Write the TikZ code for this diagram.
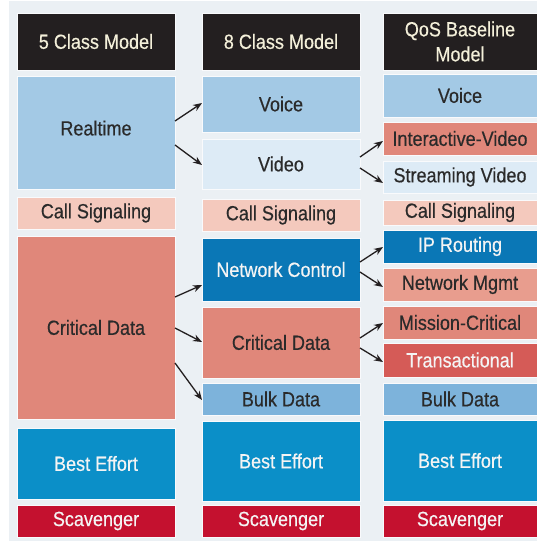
\documentclass[tikz,border=0pt]{standalone}
\usepackage{fontspec}
\setmainfont{Liberation Sans}[FakeStretch=0.88,FakeBold=0.4]
\usetikzlibrary{arrows.meta}

\definecolor{pagebg}{HTML}{EBF0F4}
\definecolor{headbg}{HTML}{231F20}
\definecolor{headtxt}{HTML}{F4F0DA}
\definecolor{darktxt}{HTML}{2A2A2A}
\definecolor{lighttxt}{HTML}{F4F4F4}
\definecolor{rtblue}{HTML}{A3C9E5}
\definecolor{paleblue}{HTML}{DDEBF6}
\definecolor{callpink}{HTML}{F4C9BD}
\definecolor{salmon}{HTML}{E0877A}
\definecolor{lightsalmon}{HTML}{E89D8E}
\definecolor{transred}{HTML}{D55B57}
\definecolor{ctrlblue}{HTML}{0A77B6}
\definecolor{bulkblue}{HTML}{7DB3DB}
\definecolor{effortblue}{HTML}{0B8FC8}
\definecolor{scavred}{HTML}{C4112F}

% one class cell: name, x0, y0, x1, y1, style, text
\newcommand{\cellbox}[7]{%
  \node[cell,#6,minimum width=#4pt-#2pt,minimum height=#5pt-#3pt] (#1) at (#2,#3) {#7};}

\tikzset{
  cell/.style={anchor=north west, inner sep=0pt, outer sep=0pt,
    draw=white!70!pagebg, line width=0.4pt,
    font=\fontsize{20.5}{25}\selectfont, text=darktxt, align=center},
  head/.style={fill=headbg, text=headtxt},
  realtimecell/.style={fill=rtblue},
  palecell/.style={fill=paleblue},
  callcell/.style={fill=callpink},
  datacell/.style={fill=salmon},
  mgmtcell/.style={fill=lightsalmon},
  transcell/.style={fill=transred, text=lighttxt},
  ctrlcell/.style={fill=ctrlblue, text=lighttxt},
  bulkcell/.style={fill=bulkblue},
  effortcell/.style={fill=effortblue, text=lighttxt},
  scavcell/.style={fill=scavred, text=lighttxt},
  arr/.style={draw=headbg, line width=1.3pt, -{Stealth[length=9pt,width=7pt]}}
}

\begin{document}
\begin{tikzpicture}[x=1pt,y=-1pt]
\useasboundingbox (0,0) rectangle (537,541);
\fill[pagebg] (9,1) rectangle (537,541);

% 5 class model
\cellbox{hA}{17}{13}{175}{70}{head}{5 Class Model}
\cellbox{rtA}{17}{76}{175}{189}{realtimecell}{\raisebox{9pt}{Realtime}}
\cellbox{csA}{17}{197}{175}{229}{callcell}{Call Signaling}
\cellbox{cdA}{17}{236}{175}{419}{datacell}{Critical Data}
\cellbox{beA}{17}{428}{175}{499}{effortcell}{Best Effort}
\cellbox{scA}{17}{505}{175}{537}{scavcell}{Scavenger}

% 8 class model
\cellbox{hB}{202}{13}{360}{70}{head}{8 Class Model}
\cellbox{voB}{202}{76}{360}{132}{realtimecell}{Voice}
\cellbox{viB}{202}{139}{360}{189}{palecell}{Video}
\cellbox{csB}{202}{199}{360}{231}{callcell}{Call Signaling}
\cellbox{ncB}{202}{238}{360}{301}{ctrlcell}{Network Control}
\cellbox{cdB}{202}{307}{360}{378}{datacell}{Critical Data}
\cellbox{bdB}{202}{383}{360}{415}{bulkcell}{Bulk Data}
\cellbox{beB}{202}{421}{360}{501}{effortcell}{Best Effort}
\cellbox{scB}{202}{505}{360}{537}{scavcell}{Scavenger}

% QoS baseline model
\cellbox{hC}{383}{13}{537}{70}{head}{QoS Baseline\\Model}
\cellbox{voC}{383}{74}{537}{117}{realtimecell}{Voice}
\cellbox{ivC}{383}{122}{537}{155}{datacell}{Interactive-Video}
\cellbox{svC}{383}{161}{537}{193}{palecell}{Streaming Video}
\cellbox{csC}{383}{200}{537}{225}{callcell}{Call Signaling}
\cellbox{ipC}{383}{230}{537}{263}{ctrlcell}{IP Routing}
\cellbox{nmC}{383}{268}{537}{301}{mgmtcell}{Network Mgmt}
\cellbox{mcC}{383}{306}{537}{339}{datacell}{Mission-Critical}
\cellbox{trC}{383}{343}{537}{377}{transcell}{Transactional}
\cellbox{bdC}{383}{383}{537}{415}{bulkcell}{Bulk Data}
\cellbox{beC}{383}{420}{537}{501}{effortcell}{Best Effort}
\cellbox{scC}{383}{505}{537}{537}{scavcell}{Scavenger}

% splits between the models
\draw[arr] ([yshift=-45pt]rtA.north east) -- ([yshift=-27pt]voB.north west);
\draw[arr] ([yshift=-69pt]rtA.north east) -- ([yshift=-26pt]viB.north west);
\draw[arr] ([yshift=-18pt]viB.north east) -- ([yshift=-19pt]ivC.north west);
\draw[arr] ([yshift=-29pt]viB.north east) -- ([yshift=-22pt]svC.north west);
\draw[arr] ([yshift=-61pt]cdA.north east) -- ([yshift=-47pt]ncB.north west);
\draw[arr] ([yshift=-92pt]cdA.north east) -- ([yshift=-35pt]cdB.north west);
\draw[arr] ([yshift=-127pt]cdA.north east) -- ([yshift=-17pt]bdB.north west);
\draw[arr] ([yshift=-24pt]ncB.north east) -- ([yshift=-17pt]ipC.north west);
\draw[arr] ([yshift=-34pt]ncB.north east) -- ([yshift=-19pt]nmC.north west);
\draw[arr] ([yshift=-31pt]cdB.north east) -- ([yshift=-17pt]mcC.north west);
\draw[arr] ([yshift=-41pt]cdB.north east) -- ([yshift=-19pt]trC.north west);
\end{tikzpicture}
\end{document}
